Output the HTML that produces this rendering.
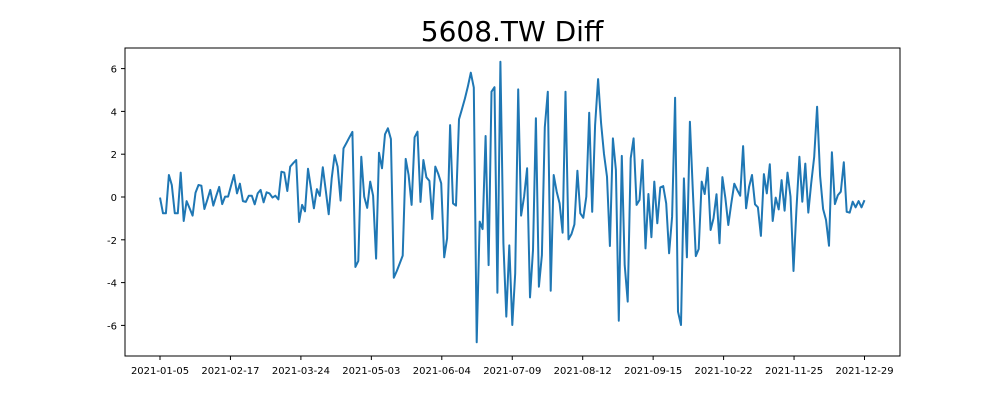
<!DOCTYPE html>
<html><head><meta charset="utf-8">
<style>
html,body{margin:0;padding:0;background:#fff;}
svg{display:block;font-family:"DejaVu Sans","Liberation Sans",sans-serif;}
</style></head>
<body>
<svg id="chart" width="1000" height="400" xmlns="http://www.w3.org/2000/svg">
<rect x="0" y="0" width="1000" height="400" fill="#fff"/>
<text x="512" y="41" text-anchor="middle" font-size="28" fill="#000">5608.TW Diff</text>
<g id="plot"></g>
<rect x="125" y="48" width="775" height="308" fill="none" stroke="#000" stroke-width="1"/>
</svg>
<script>
const values = [
-0.03,-0.76,-0.76,1.03,0.56,-0.76,-0.76,1.14,-1.12,-0.19,-0.53,-0.87,0.2,0.56,0.53,-0.56,-0.12,0.33,-0.4,0.04,0.47,-0.33,0.02,0.02,0.52,1.03,0.17,0.62,-0.19,-0.23,0.06,0.06,-0.34,0.17,0.33,-0.25,0.22,0.17,-0.03,0.06,-0.11,1.18,1.14,0.28,1.42,1.58,1.73,-1.17,-0.37,-0.67,1.32,0.4,-0.53,0.37,0.05,1.39,0.29,-0.81,0.87,
1.96,1.42,-0.17,2.27,2.53,2.79,3.04,-3.27,-2.99,1.88,0.02,-0.51,0.72,0.06,-2.88,2.07,1.34,2.93,3.21,2.71,-3.77,-3.46,-3.1,-2.74,1.78,1.03,-0.37,2.79,3.05,-0.23,1.73,0.92,0.75,-1.03,1.42,1.09,0.64,-2.82,-1.93,3.36,-0.3,-0.4,3.63,4.1,4.6,5.15,5.81,5.11,-6.79,-1.15,-1.5,2.85,-3.18,4.92,5.13,-4.47,6.32,
-2.16,-5.59,-2.26,-5.98,-3.57,5.03,-0.87,0.02,1.34,-4.69,-2.48,3.68,-4.19,-2.71,3.26,4.92,-4.38,1.03,0.25,-0.3,-1.67,4.92,-1.98,-1.73,-1.28,1.23,-0.76,-0.97,0.02,3.94,-0.69,3.36,5.51,3.44,2.01,0.95,-2.29,2.74,1.26,-5.78,1.92,-3.18,-4.89,1.81,2.74,-0.37,-0.14,1.73,-2.4,0.14,-1.88,0.72,-1.23,0.45,0.51,-0.3,-2.63,-0.92,4.64,-5.36,-5.98,0.87,-2.82,
3.52,0.33,-2.76,-2.43,0.72,0.14,1.37,-1.54,-1.0,0.13,-2.16,0.93,-0.06,-1.31,-0.3,0.62,0.33,0.06,2.38,-0.53,0.48,1.03,-0.34,-0.48,-1.82,1.07,0.17,1.53,-1.12,-0.03,-0.58,0.79,-0.64,1.14,0.02,-3.46,-0.61,1.88,-0.22,1.56,-0.73,0.64,1.88,4.22,0.98,-0.56,-1.07,-2.28,2.09,-0.33,0.09,0.25,1.62,-0.69,-0.73,-0.22,-0.48,-0.19,-0.48,-0.15
];
const xTickLabels = ["2021-01-05","2021-02-17","2021-03-24","2021-05-03","2021-06-04","2021-07-09","2021-08-12","2021-09-15","2021-10-22","2021-11-25","2021-12-29"];
const yTicks = [-6,-4,-2,0,2,4,6];

const NS = "http://www.w3.org/2000/svg";
const plot = document.getElementById("plot");
const n = values.length;
const xMin = 0, xMax = n - 1;
const pxL = 160, pxR = 864.5;
function xs(i){ return pxL + (i - xMin) / (xMax - xMin) * (pxR - pxL); }
const yPerUnit = 21.4, y0 = 197;
function ys(v){ return y0 - v * yPerUnit; }

yTicks.forEach(function(t){
  const y = ys(t);
  const l = document.createElementNS(NS, "line");
  l.setAttribute("x1", 121); l.setAttribute("x2", 125);
  l.setAttribute("y1", y); l.setAttribute("y2", y);
  l.setAttribute("stroke", "#000");
  
  
  plot.appendChild(l);
  const tx = document.createElementNS(NS, "text");
  tx.setAttribute("x", 117); tx.setAttribute("y", y + 4);
  tx.setAttribute("text-anchor", "end"); tx.setAttribute("font-size", "10");
  tx.textContent = t;
  
  
  plot.appendChild(tx);
});

xTickLabels.forEach(function(lab, k){
  const idx = xMin + k * (xMax - xMin) / (xTickLabels.length - 1);
  const x = xs(idx);
  const l = document.createElementNS(NS, "line");
  l.setAttribute("x1", x); l.setAttribute("x2", x);
  l.setAttribute("y1", 356); l.setAttribute("y2", 360);
  l.setAttribute("stroke", "#000");
  
  
  plot.appendChild(l);
  const tx = document.createElementNS(NS, "text");
  tx.setAttribute("x", x); tx.setAttribute("y", 374);
  tx.setAttribute("text-anchor", "middle"); tx.setAttribute("font-size", "10");
  tx.textContent = lab;
  
  
  plot.appendChild(tx);
});

const pts = values.map(function(v, i){ return xs(i).toFixed(1) + "," + ys(v).toFixed(1); }).join(" ");
const line = document.createElementNS(NS, "polyline");
line.setAttribute("points", pts);
line.setAttribute("fill", "none");
line.setAttribute("stroke", "#1f77b4");
line.setAttribute("stroke-width", "2");
line.setAttribute("stroke-linejoin", "round");


plot.appendChild(line);
</script>
</body></html>
